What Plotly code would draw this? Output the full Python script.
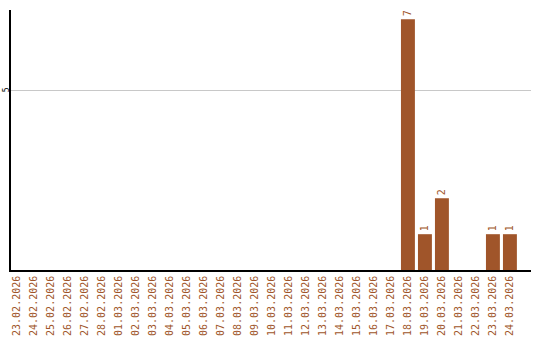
import plotly.graph_objects as go

dates = ["23.02.2026", "24.02.2026", "25.02.2026", "26.02.2026", "27.02.2026", "28.02.2026",
         "01.03.2026", "02.03.2026", "03.03.2026", "04.03.2026", "05.03.2026", "06.03.2026",
         "07.03.2026", "08.03.2026", "09.03.2026", "10.03.2026", "11.03.2026", "12.03.2026",
         "13.03.2026", "14.03.2026", "15.03.2026", "16.03.2026", "17.03.2026", "18.03.2026",
         "19.03.2026", "20.03.2026", "21.03.2026", "22.03.2026", "23.03.2026", "24.03.2026"]
counts = [0, 0, 0, 0, 0, 0, 0, 0, 0, 0, 0, 0, 0, 0, 0, 0, 0, 0, 0, 0, 0, 0, 0, 7, 1, 2, 0, 0, 1, 1]

labels = [str(v) if v else "" for v in counts]
color = "#a0552a"

fig = go.Figure(go.Bar(
    x=list(range(len(dates))), y=counts, width=0.82,
    marker=dict(color=color, line=dict(width=0)),
    text=labels, textposition="outside", textangle=-90, cliponaxis=False,
    textfont=dict(family="DejaVu Sans Mono", size=10, color=color),
))
fig.update_layout(
    width=540, height=340, margin=dict(l=11, r=9, t=10, b=70),
    paper_bgcolor="white", plot_bgcolor="white", showlegend=False,
    xaxis=dict(range=[-0.35, 30.24], tickmode="array", tickvals=list(range(len(dates))),
               ticktext=dates, tickangle=-90, showgrid=False, zeroline=False,
               showline=True, linecolor="black", linewidth=1.5, ticks="", automargin=False,
               tickfont=dict(family="DejaVu Sans Mono", size=10, color=color)),
    yaxis=dict(range=[0, 7.26], tickvals=[5], ticktext=["5"], tickangle=-90,
               showgrid=True, gridcolor="#c8c8c8", gridwidth=1, zeroline=False,
               showline=True, linecolor="black", linewidth=1.5, ticks="", automargin=False,
               ticklabelstandoff=-3,
               tickfont=dict(family="DejaVu Sans Mono", size=8, color="black")),
)
fig.write_html("out.html")
